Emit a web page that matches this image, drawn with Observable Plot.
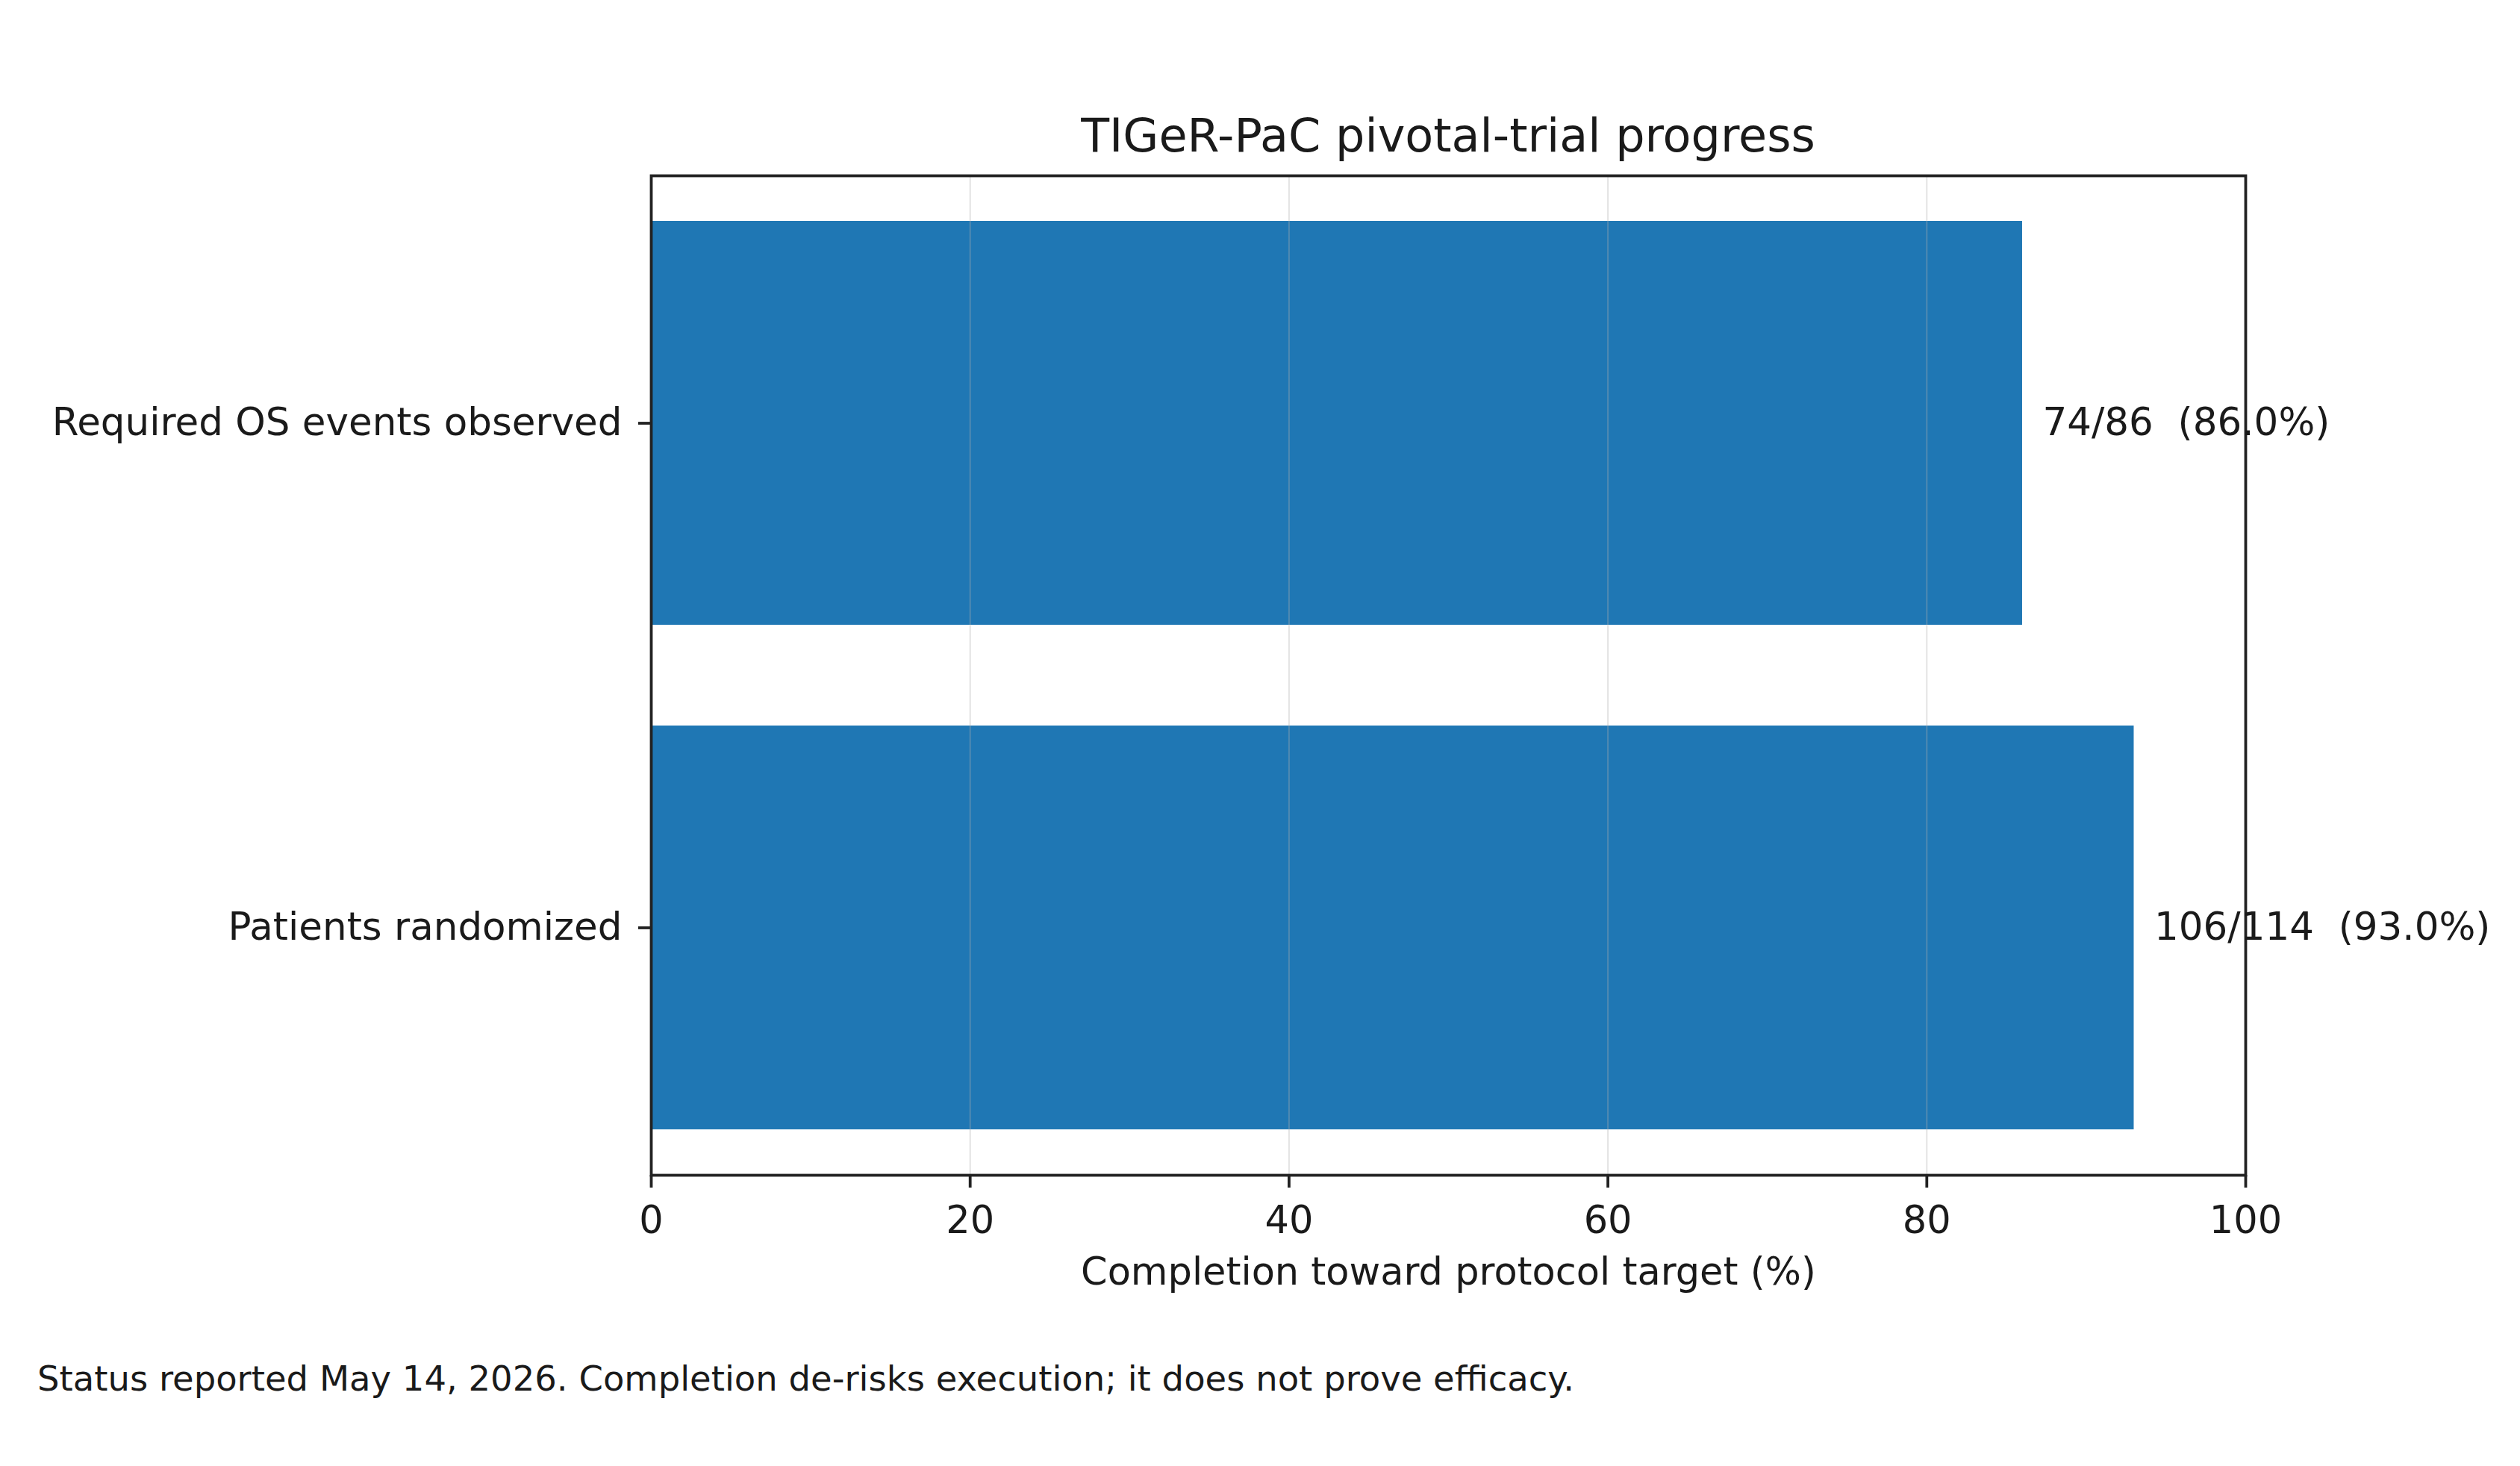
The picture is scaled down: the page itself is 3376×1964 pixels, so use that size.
<!DOCTYPE html>
<html>
<head>
<meta charset="utf-8">
<script src="https://cdn.jsdelivr.net/npm/d3@7"></script>
<script src="https://cdn.jsdelivr.net/npm/@observablehq/plot@0.6"></script>
<style>
  html, body { margin: 0; padding: 0; background: #ffffff; }
  #wrap { position: relative; width: 3376px; height: 1964px; background: #ffffff; font-family: "DejaVu Sans", sans-serif; color: #1a1a1a; }
  #title { position: absolute; z-index: 2; left: 872px; width: 2136px; top: 151px; font-size: 62px; line-height: 62px; text-align: center; white-space: nowrap; }
  #chart { position: absolute; z-index: 1; left: 0; top: 200px; }
  #caption { position: absolute; z-index: 2; left: 50px; top: 1824px; font-size: 46.5px; line-height: 46.5px; white-space: nowrap; }
</style>
</head>
<body>
<div id="wrap">
  <div id="title">TIGeR-PaC pivotal-trial progress</div>
  <div id="chart"></div>
  <div id="caption">Status reported May 14, 2026. Completion de-risks execution; it does not prove efficacy.</div>
</div>
<script>
// ---- data ----
const categories = ["Required OS events observed", "Patients randomized"];
const observed = [74, 106];
const targets = [86, 114];
const percents = [86.0, 93.0];
const xTicks = [0, 20, 40, 60, 80, 100];
const xLabel = "Completion toward protocol target (%)";

const rows = categories.map((c, i) => ({
  category: c,
  pct: percents[i],
  label: `${observed[i]}/${targets[i]}\u00a0\u00a0(${percents[i].toFixed(1)}%)`
}));

const ink = "#1a1a1a";
const plot = Plot.plot({
  width: 3376,
  height: 1600,
  marginTop: 35,
  marginBottom: 226,
  marginLeft: 872,
  marginRight: 368,
  style: { fontFamily: "DejaVu Sans, sans-serif", fontSize: "51px", background: "transparent", color: ink },
  x: { domain: [0, 100], ticks: xTicks },
  y: { domain: categories, paddingInner: 0.2, paddingOuter: 0.09, align: 0.5 },
  marks: [
    Plot.barX(rows, { x: "pct", y: "category", fill: "#1f77b4" }),
    Plot.gridX(xTicks.slice(1, -1), { stroke: "#b0b0b0", strokeOpacity: 0.35, strokeWidth: 2 }),
    Plot.frame({ stroke: "#222", strokeWidth: 3.8 }),
    Plot.axisX({ ticks: xTicks, tickSize: 17, tickPadding: 24, strokeWidth: 3.8, stroke: "#222", fill: ink, fontSize: 51,
                 label: xLabel, labelAnchor: "center", labelOffset: 146, labelArrow: "none" }),
    Plot.axisY({ tickSize: 17, tickPadding: 22, strokeWidth: 3.8, stroke: "#222", fill: ink, fontSize: 51.5, label: null }),
    Plot.text(rows, { x: "pct", y: "category", text: "label", dx: 27, textAnchor: "start", fill: ink, fontSize: 51.5 })
  ]
});
document.getElementById("chart").appendChild(plot);
</script>
</body>
</html>
